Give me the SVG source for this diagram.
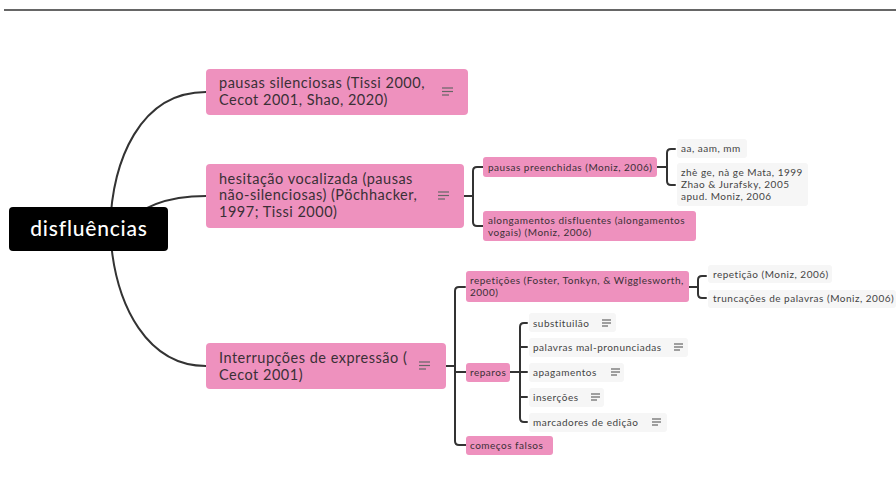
<svg xmlns="http://www.w3.org/2000/svg" width="896" height="488" viewBox="0 0 896 488">
<style>
.bg{fill:#ffffff}
.con{fill:none;stroke:#333333;stroke-width:2;stroke-linecap:round;stroke-linejoin:round}
.pink{fill:#EE91BE}
.leaf{fill:#F6F6F6}
.t1{font-family:Lato,"Open Sans",sans-serif;font-size:14.5px;letter-spacing:0.5px;fill:#3a3036}
.t2{font-family:Lato,"Open Sans",sans-serif;font-size:10px;letter-spacing:0.5px;fill:#3a3036}
.t3{font-family:Lato,"Open Sans",sans-serif;font-size:10px;letter-spacing:0.5px;fill:#444444}
.root{font-family:Lato,"Open Sans",sans-serif;font-size:21px;letter-spacing:0.8px;fill:#ffffff;font-weight:500}
.ic{stroke:#666666;stroke-width:1.2}
</style>
<defs>
<g id="note"><line class="ic" x1="0" y1="0" x2="11" y2="0"/><line class="ic" x1="0" y1="3.5" x2="11" y2="3.5"/><line class="ic" x1="0" y1="7" x2="7" y2="7"/></g>
<g id="notes"><line class="ic" x1="0" y1="0" x2="9" y2="0"/><line class="ic" x1="0" y1="3" x2="9" y2="3"/><line class="ic" x1="0" y1="6" x2="6" y2="6"/></g>
</defs>
<rect class="bg" x="0" y="0" width="896" height="488"/>
<line x1="4" y1="10" x2="896" y2="10" stroke="#666666" stroke-width="2"/>

<g id="connectors">
<path class="con" d="M206 92 C140 92 112 160 110 229"/>
<path class="con" d="M206 196 C170 196 140 205 120 229"/>
<path class="con" d="M206 366 C150 366 114 310 110 229"/>
<path class="con" d="M464 196 H473"/>
<path class="con" d="M483 167 H477 Q473 167 473 171 V222 Q473 226 477 226 H483"/>
<path class="con" d="M657 167 H667"/>
<path class="con" d="M675 149 H671 Q667 149 667 153 V181 Q667 185 671 185 H675"/>
<path class="con" d="M446 366 H455"/>
<path class="con" d="M465 287 H459 Q455 287 455 291 V441 Q455 445 459 445 H466"/>
<path class="con" d="M455 372 H466"/>
<path class="con" d="M689 287 H698"/>
<path class="con" d="M706 276 H702 Q698 276 698 280 V294 Q698 298 702 298 H706"/>
<path class="con" d="M510 372 H520"/>
<path class="con" d="M527 323 H524 Q520 323 520 327 V418 Q520 422 524 422 H527"/>
<path class="con" d="M520 347 H527"/>
<path class="con" d="M520 372 H527"/>
<path class="con" d="M520 397 H527"/>
</g>

<g id="root">
<rect x="9" y="207" width="159" height="44" rx="4" fill="#000000"/>
<text class="root" x="89" y="236" text-anchor="middle">disfluências</text>
</g>

<g id="n-pausas-silenciosas">
<rect class="pink" x="206" y="69" width="262" height="46" rx="4"/>
<text class="t1" x="219" y="88">pausas silenciosas (Tissi 2000,</text>
<text class="t1" x="219" y="105">Cecot 2001, Shao, 2020)</text>
<use href="#note" x="442" y="88"/>
</g>

<g id="n-hesitacao">
<rect class="pink" x="206" y="164" width="258" height="64" rx="4"/>
<text class="t1" x="219" y="184">hesitação vocalizada (pausas</text>
<text class="t1" x="219" y="200">não-silenciosas) (Pöchhacker,</text>
<text class="t1" x="219" y="217">1997; Tissi 2000)</text>
<use href="#note" x="438" y="192"/>
</g>

<g id="n-interrupcoes">
<rect class="pink" x="206" y="343" width="240" height="46" rx="4"/>
<text class="t1" x="219" y="363">Interrupções de expressão (</text>
<text class="t1" x="219" y="380">Cecot 2001)</text>
<use href="#note" x="419" y="362"/>
</g>

<g id="n-pausas-preenchidas">
<rect class="pink" x="483" y="157" width="174" height="20" rx="3"/>
<text class="t2" x="488" y="170.5">pausas preenchidas (Moniz, 2006)</text>
</g>

<g id="n-alongamentos">
<rect class="pink" x="483" y="211" width="213" height="30" rx="3"/>
<text class="t2" x="488" y="223.5">alongamentos disfluentes (alongamentos</text>
<text class="t2" x="488" y="235.5">vogais) (Moniz, 2006)</text>
</g>

<g id="n-aa">
<rect class="leaf" x="677" y="139" width="70" height="19" rx="3"/>
<text class="t3" x="681" y="152">aa, aam, mm</text>
</g>

<g id="n-zhe">
<rect class="leaf" x="677" y="163" width="131" height="43" rx="3"/>
<text class="t3" x="681" y="175.5">zhè ge, nà ge Mata, 1999</text>
<text class="t3" x="681" y="187.5">Zhao &amp; Jurafsky, 2005</text>
<text class="t3" x="681" y="199.5">apud. Moniz, 2006</text>
</g>

<g id="n-repeticoes">
<rect class="pink" x="466" y="271" width="223" height="31" rx="3"/>
<text class="t2" x="470" y="284">repetições (Foster, Tonkyn, &amp; Wigglesworth,</text>
<text class="t2" x="470" y="296">2000)</text>
</g>

<g id="n-repeticao">
<rect class="leaf" x="708" y="265" width="124" height="18" rx="3"/>
<text class="t3" x="713" y="278">repetição (Moniz, 2006)</text>
</g>

<g id="n-truncacoes">
<rect class="leaf" x="708" y="290" width="188" height="18" rx="3"/>
<text class="t3" x="713" y="302">truncações de palavras (Moniz, 2006)</text>
</g>

<g id="n-reparos">
<rect class="pink" x="466" y="363" width="44" height="19" rx="3"/>
<text class="t2" x="470" y="376">reparos</text>
</g>

<g id="n-comecos">
<rect class="pink" x="466" y="436" width="87" height="19" rx="3"/>
<text class="t2" x="470" y="449">começos falsos</text>
</g>

<g id="n-substituilao">
<rect class="leaf" x="529" y="313" width="87" height="19" rx="3"/>
<text class="t3" x="533" y="326.5">substituilão</text>
<use href="#notes" x="602" y="320"/>
</g>

<g id="n-palavras">
<rect class="leaf" x="529" y="338" width="159" height="19" rx="3"/>
<text class="t3" x="533" y="351">palavras mal-pronunciadas</text>
<use href="#notes" x="674" y="344"/>
</g>

<g id="n-apagamentos">
<rect class="leaf" x="529" y="363" width="95" height="19" rx="3"/>
<text class="t3" x="533" y="376">apagamentos</text>
<use href="#notes" x="611" y="369"/>
</g>

<g id="n-insercoes">
<rect class="leaf" x="529" y="388" width="75" height="19" rx="3"/>
<text class="t3" x="533" y="401">inserções</text>
<use href="#notes" x="591" y="394"/>
</g>

<g id="n-marcadores">
<rect class="leaf" x="529" y="413" width="138" height="19" rx="3"/>
<text class="t3" x="533" y="426">marcadores de edição</text>
<use href="#notes" x="652" y="419"/>
</g>
</svg>
